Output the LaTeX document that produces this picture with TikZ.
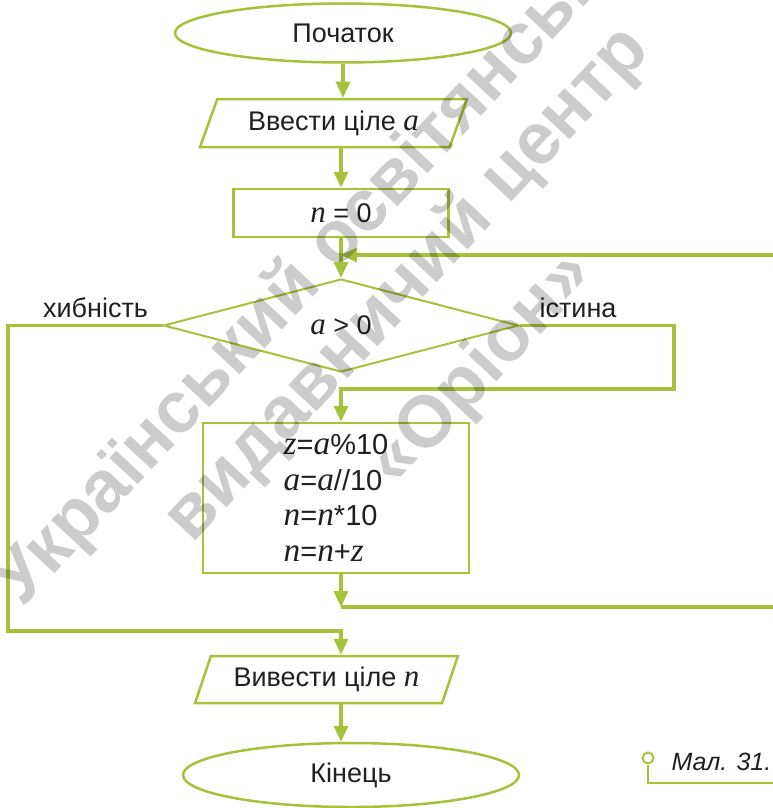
\documentclass[tikz,border=0pt]{standalone}
\usepackage{fontspec}
\setmainfont{Liberation Sans}
\newfontfamily\serifvar{Liberation Serif}[Scale=1.15]
\usetikzlibrary{shapes.geometric,arrows.meta}
\definecolor{leaf}{RGB}{166,194,58}
\definecolor{ink}{RGB}{35,31,32}
\newcommand{\vn}[1]{{\serifvar\itshape #1}}
\tikzset{
  >={Triangle[length=16pt,width=14pt]},
  every node/.style={font=\fontsize{27}{30}\selectfont,text=ink},
  blk/.style={draw=leaf,line width=2.5pt,inner sep=0pt},
  flow/.style={leaf,line width=3.5pt},
  term/.style={blk,ellipse,minimum width=336pt,minimum height=59pt},
  io/.style={blk,trapezium,trapezium left angle=63,trapezium right angle=117,
    trapezium stretches=true,minimum width=267pt,minimum height=48pt},
  proc/.style={blk,rectangle},
  test/.style={blk,line width=2pt,diamond,minimum width=355pt,minimum height=93pt},
  stamp/.style={font=\fontsize{73}{75}\selectfont\bfseries,text=black,opacity=0.2,rotate=47}
}
\begin{document}
\begin{tikzpicture}[x=1pt,y=-1pt]
\useasboundingbox (0,0) rectangle (773,808);

\node[term] (start) at (343,33) {Початок};
\node[io] (inp) at (333.5,123) {Ввести ціле \vn{a}};
\node[proc,minimum width=215pt,minimum height=48pt] (init) at (341,213) {\vn{n} = 0};
\node[test] (cond) at (341,325.5) {\vn{a} > 0};
\node[proc,minimum width=266pt,minimum height=150pt,align=left,
  font=\fontsize{29}{35.5}\selectfont] (body) at (336,498)
  {\vn{z}=\vn{a}\%10\\\vn{a}=\vn{a}//10\\\vn{n}=\vn{n}*10\\\vn{n}=\vn{n}+\vn{z}};
\node[io,minimum width=263pt,minimum height=47pt] (out) at (326.5,679.5) {Вивести ціле \vn{n}};
\node[term,minimum height=64pt] (stop) at (351,775) {Кінець};

\node[anchor=base] (no) at (95.5,317) {хибність};
\node[anchor=base] (yes) at (578,317) {істина};

\coordinate (back) at (773,255);
\coordinate (exit) at (773,607);
\coordinate (tbend) at (674,389);
\coordinate (fbend) at (8,631);

\draw[flow,->] (start) -- (start |- inp.north);
\draw[flow,->] (inp.south -| init) -- (init);
\draw[flow,->] (init) -- (cond);
\draw[flow,->] (back) -- (back -| cond.north);
\draw[flow,->] (cond.east) -| (tbend) -- (tbend -| cond) -- (cond |- body.north);
\draw[flow,->] (cond.west) -| (fbend) -- (fbend -| cond) -- (cond |- out.north);
\draw[flow,->] (cond |- body.south) -- (cond |- exit);
\draw[flow] (cond |- exit) -- (exit);
\draw[flow,->] (out.south -| cond) -- (cond |- stop.north);

\node[circle,draw=leaf,line width=2pt,minimum size=11pt,inner sep=0pt] (pin) at (648,758) {};
\coordinate (capend) at (773,783);
\draw[leaf,line width=2.5pt] (pin) |- (capend);
\node[anchor=base west,font=\fontsize{25}{28}\selectfont\itshape] (cap) at (668,770) {Мал. 31.};

\node[stamp] (wm1) at (330,250) {Український освітянський};
\node[stamp] (wm2) at (408,285) {видавничий центр};
\node[stamp] (wm3) at (482,370) {«Оріон»};
\end{tikzpicture}
\end{document}
